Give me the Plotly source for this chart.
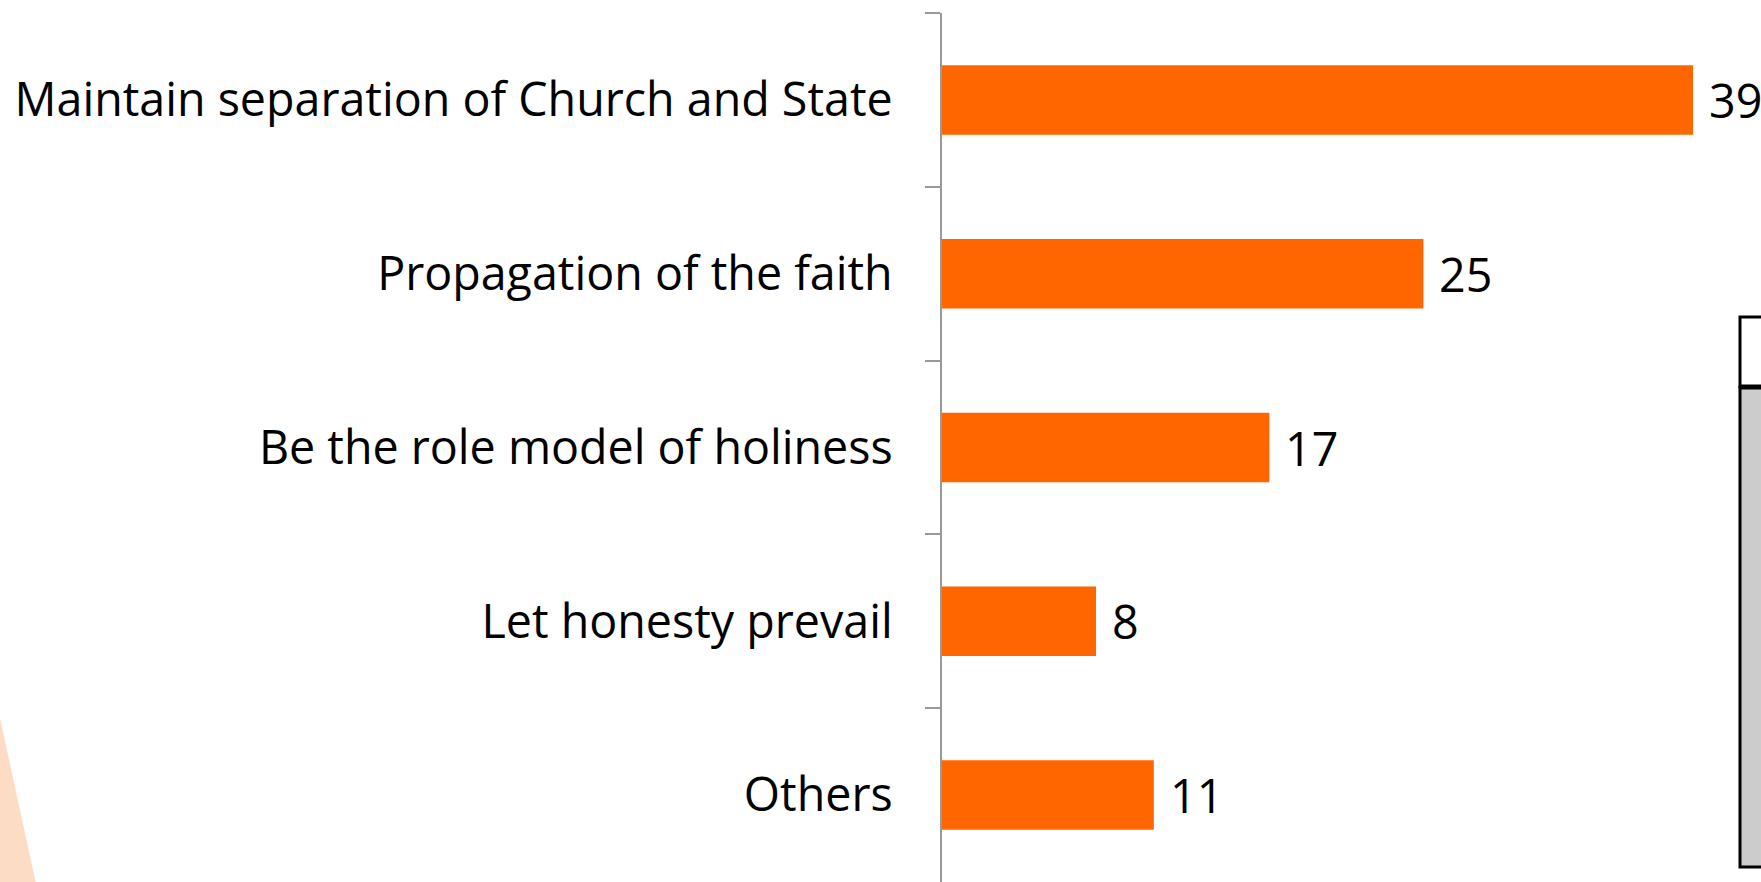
import plotly.graph_objects as go

# Survey responses: share of respondents (%)
categories = [
    "Maintain separation of Church and State",
    "Propagation of the faith",
    "Be the role model of holiness",
    "Let honesty prevail",
    "Others",
]
values = [39, 25, 17, 8, 11]

FIG_W, FIG_H = 1761, 882
M_L, M_T, M_R, M_B = 942, 13, 60, 0
PLOT_W = FIG_W - M_L - M_R
PLOT_H = FIG_H - M_T - M_B
X_MAX = 39 * PLOT_W / 751.0

FONT = "Open Sans"
FONT_SIZE = 46.6
BAR_COLOR = "#FF6600"


def px_x(px):
    return (px - M_L) / PLOT_W


def px_y(py):
    return 1 - (py - M_T) / PLOT_H


fig = go.Figure(
    go.Bar(
        x=values,
        y=categories,
        orientation="h",
        marker=dict(color=BAR_COLOR, line=dict(width=0)),
        width=0.4,
        hoverinfo="x+y",
    )
)

# value labels to the right of each bar
for cat, val in zip(categories, values):
    fig.add_annotation(
        x=val, y=cat, text=str(val), showarrow=False,
        xanchor="left", yanchor="middle", xshift=14,
        font=dict(family=FONT, size=FONT_SIZE, color="#000000"),
    )

shapes = []
# soft peach wedge in the lower-left corner
shapes.append(dict(
    type="path", xref="paper", yref="paper", layer="below",
    path=f"M {px_x(0)},{px_y(718)} L {px_x(36)},{px_y(884)} L {px_x(0)},{px_y(884)} Z",
    fillcolor="#FDDCC6", line=dict(width=0),
))
# partially visible table panel at the right edge
shapes.append(dict(
    type="rect", xref="paper", yref="paper", layer="above",
    x0=px_x(1740), x1=px_x(1800), y0=px_y(867), y1=px_y(387),
    fillcolor="#CCCCCC", line=dict(color="#000000", width=3),
))
shapes.append(dict(
    type="rect", xref="paper", yref="paper", layer="above",
    x0=px_x(1740), x1=px_x(1800), y0=px_y(387), y1=px_y(317),
    fillcolor="#FFFFFF", line=dict(color="#000000", width=3),
))
shapes.append(dict(
    type="line", xref="paper", yref="paper", layer="above",
    x0=px_x(1740), x1=px_x(1800), y0=px_y(387), y1=px_y(387),
    line=dict(color="#000000", width=5),
))

fig.update_layout(
    width=FIG_W, height=FIG_H,
    margin=dict(l=M_L, r=M_R, t=M_T, b=M_B, autoexpand=False),
    paper_bgcolor="#FFFFFF", plot_bgcolor="rgba(0,0,0,0)",
    showlegend=False,
    shapes=shapes,
    xaxis=dict(range=[0, X_MAX], visible=False, fixedrange=True),
    yaxis=dict(
        categoryorder="array", categoryarray=categories,
        autorange="reversed",
        showline=True, linecolor="#999999", linewidth=2,
        ticks="outside", tickson="boundaries", ticklen=15,
        tickcolor="#999999", tickwidth=2,
        ticklabelstandoff=38,
        showgrid=False, zeroline=False,
        tickfont=dict(family=FONT, size=FONT_SIZE, color="#000000"),
    ),
    bargap=0.6,
)

fig.write_html("out.html")
